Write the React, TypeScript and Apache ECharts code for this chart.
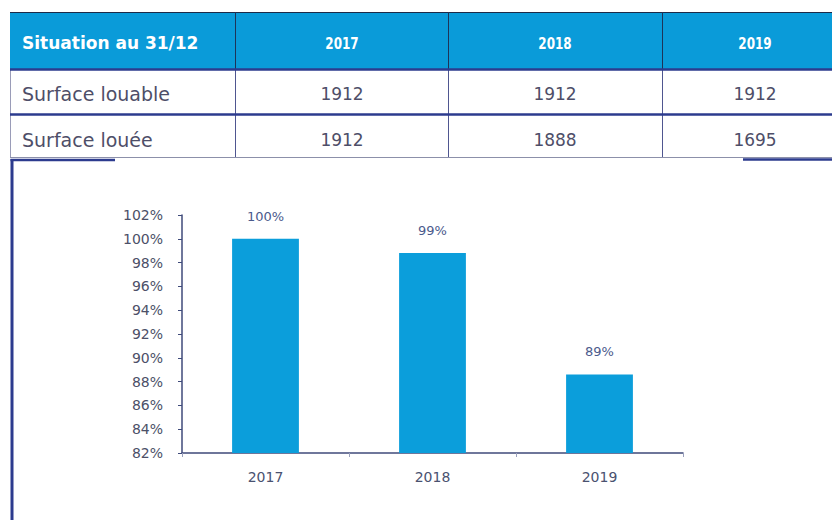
import React, { useEffect, useRef } from "react";
import * as echarts from "echarts";

const headerLabel = "Situation au 31/12";
const years = ["2017", "2018", "2019"];
const rowLabels = ["Surface louable", "Surface louée"];
const surfaceLouable = [1912, 1912, 1912];
const surfaceLouee = [1912, 1888, 1695];
const occupancyPct = [100, 98.8, 88.6];
const yMin = 82;
const yMax = 102;
const yStep = 2;

const FONT = "DejaVu Sans";
const NAVY = "#2c3b8e";
const TEXT = "#4e4e68";

function buildTable(): any[] {
  const colX = [10, 235, 448, 662, 832];
  const colCenters = [342, 555, 755];
  const rowY = [12, 69, 114, 158];
  const textY = [43, 94, 139.5];
  const els: any[] = [];
  els.push({ type: "rect", shape: { x: 10, y: 12, width: 822, height: 57 }, style: { fill: "#0a9bd9" } });
  els.push({ type: "line", shape: { x1: 10, y1: 12.5, x2: 832, y2: 12.5 }, style: { stroke: "#1d2a48", lineWidth: 1.2 } });
  // vertical lines
  for (let i = 1; i < 4; i++) {
    els.push({ type: "line", shape: { x1: colX[i] + 0.5, y1: 12, x2: colX[i] + 0.5, y2: 69 }, style: { stroke: "#1d3358", lineWidth: 1 } });
    els.push({ type: "line", shape: { x1: colX[i] + 0.5, y1: 69, x2: colX[i] + 0.5, y2: 158 }, style: { stroke: "#4f5690", lineWidth: 1 } });
  }
  els.push({ type: "line", shape: { x1: 10.5, y1: 69, x2: 10.5, y2: 158 }, style: { stroke: "#9a9cb8", lineWidth: 1 } });
  els.push({ type: "line", shape: { x1: 10, y1: rowY[1] + 0.5, x2: 832, y2: rowY[1] + 0.5 }, style: { stroke: NAVY, lineWidth: 2.5 } });
  els.push({ type: "line", shape: { x1: 10, y1: rowY[2] + 0.5, x2: 832, y2: rowY[2] + 0.5 }, style: { stroke: NAVY, lineWidth: 2.5 } });
  els.push({ type: "line", shape: { x1: 10, y1: rowY[3] - 0.5, x2: 832, y2: rowY[3] - 0.5 }, style: { stroke: "#8c90aa", lineWidth: 1 } });
  // header texts
  els.push({
    type: "text", x: 22, y: textY[0],
    style: { text: headerLabel, fill: "#ffffff", font: `bold 17px "${FONT}"`, align: "left", verticalAlign: "middle" },
  });
  years.forEach((yr, i) => {
    els.push({
      type: "text", x: colCenters[i], y: textY[0], scaleX: 0.8,
      style: { text: yr, fill: "#ffffff", font: `bold 15px "${FONT}"`, align: "center", verticalAlign: "middle" },
    });
  });
  const rows = [surfaceLouable, surfaceLouee];
  rows.forEach((vals, r) => {
    els.push({
      type: "text", x: 22, y: textY[r + 1],
      style: { text: rowLabels[r], fill: TEXT, font: `19px "${FONT}"`, align: "left", verticalAlign: "middle" },
    });
    vals.forEach((v, i) => {
      els.push({
        type: "text", x: colCenters[i], y: textY[r + 1],
        style: { text: String(v), fill: TEXT, font: `17px "${FONT}"`, align: "center", verticalAlign: "middle" },
      });
    });
  });
  // chart box borders
  els.push({ type: "line", shape: { x1: 12, y1: 159, x2: 12, y2: 520 }, style: { stroke: NAVY, lineWidth: 3 } });
  els.push({ type: "line", shape: { x1: 10.5, y1: 160, x2: 115, y2: 160 }, style: { stroke: NAVY, lineWidth: 2.5 } });
  els.push({ type: "line", shape: { x1: 743, y1: 159.5, x2: 832, y2: 159.5 }, style: { stroke: NAVY, lineWidth: 2.5 } });
  return els;
}

export default function App() {
  const ref = useRef<HTMLDivElement>(null);
  useEffect(() => {
    document.body.style.margin = "0";
    const chart = echarts.init(ref.current!, undefined, { renderer: "svg" });
    const axisColor = "#3f4a7a";
    chart.setOption({
      animation: false,
      backgroundColor: "#ffffff",
      grid: { left: 182, right: 149, top: 215, bottom: 67, containLabel: false },
      xAxis: {
        type: "category",
        data: years,
        axisLine: { lineStyle: { color: axisColor, width: 1.5 } },
        axisTick: { show: true, length: 4, lineStyle: { color: "#9aa0bc" } },
        axisLabel: { color: "#4a5270", fontFamily: FONT, fontSize: 14, margin: 17 },
      },
      yAxis: {
        type: "value",
        min: yMin,
        max: yMax,
        interval: yStep,
        splitLine: { show: false },
        axisLine: { show: true, lineStyle: { color: axisColor, width: 1.5 } },
        axisTick: { show: true, length: 4, lineStyle: { color: axisColor } },
        axisLabel: { color: "#4c5068", fontFamily: FONT, fontSize: 14, margin: 19, formatter: "{value}%" },
      },
      series: [
        {
          type: "bar",
          data: occupancyPct,
          barWidth: "40%",
          itemStyle: { color: "#0b9edb" },
          label: {
            show: true,
            position: "top",
            distance: 16,
            color: "#4b5a8c",
            fontFamily: FONT,
            fontSize: 13,
            formatter: (p: any) => `${Math.round(p.value)}%`,
          },
        },
      ],
      graphic: buildTable(),
    });
    return () => chart.dispose();
  }, []);
  return <div ref={ref} style={{ width: 832, height: 520 }} />;
}
